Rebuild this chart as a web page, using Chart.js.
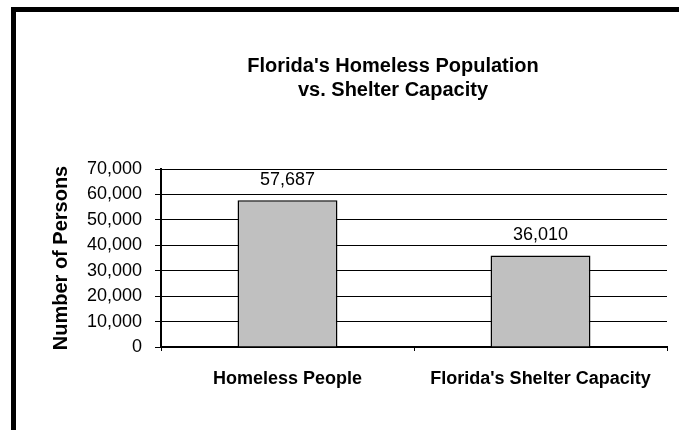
<!DOCTYPE html>
<html>
<head>
<meta charset="utf-8">
<script src="https://cdn.jsdelivr.net/npm/chart.js@4/dist/chart.umd.min.js"></script>
<style>
  html, body { margin: 0; padding: 0; background: #fff; }
  body { width: 679px; height: 430px; overflow: hidden; position: relative; }
  #frame { position: absolute; left: 11px; top: 7px; width: 900px; height: 700px; border: 5px solid #000; box-sizing: border-box; }
  #c { position: absolute; left: 0; top: 0; }
</style>
</head>
<body>
<div id="frame"></div>
<canvas id="c" width="679" height="430"></canvas>
<script>
const titleLines = ["Florida's Homeless Population", "vs. Shelter Capacity"];
const yAxisTitle = "Number of Persons";
const categories = ["Homeless People", "Florida's Shelter Capacity"];
const persons = [57687, 36010];
const yMin = 0;
const yMax = 70000;
const yStep = 10000;

const FONT = "'Liberation Sans', Arial, Helvetica, sans-serif";
Chart.defaults.color = '#000';
Chart.defaults.font.family = FONT;

const valueLabels = {
  id: 'valueLabels',
  afterDatasetsDraw(chart) {
    const ctx = chart.ctx;
    const meta = chart.getDatasetMeta(0);
    ctx.save();
    ctx.font = '18px ' + FONT;
    ctx.fillStyle = '#000';
    ctx.textAlign = 'center';
    ctx.textBaseline = 'middle';
    meta.data.forEach((el, i) => {
      ctx.fillText(persons[i].toLocaleString('en-US'), el.x, el.y - 20);
    });
    ctx.restore();
  }
};

new Chart(document.getElementById('c'), {
  type: 'bar',
  data: {
    labels: categories,
    datasets: [{
      data: persons,
      backgroundColor: '#c0c0c0',
      borderColor: '#000',
      borderWidth: 1.5,
      categoryPercentage: 1,
      barPercentage: 0.395,
      yAxisID: 'y'
    }]
  },
  options: {
    responsive: false,
    animation: false,
    layout: { padding: { left: 0, right: -107, top: 0, bottom: 0 } },
    plugins: {
      legend: { display: false },
      tooltip: { enabled: false },
      title: {
        display: true,
        text: titleLines,
        color: '#000',
        font: { size: 20, weight: 'bold', family: FONT, lineHeight: 1.2 },
        padding: { top: 54, bottom: 67 }
      }
    },
    scales: {
      x: {
        grid: { display: true, drawOnChartArea: false, drawTicks: true, tickLength: 4, color: '#000', lineWidth: 1, offset: true },
        border: { display: true, color: '#000', width: 2 },
        ticks: { color: '#000', font: { size: 18, weight: 'bold', family: FONT }, padding: 17, maxRotation: 0 },
        afterFit(scale) { scale.height = 83; }
      },
      y: {
        position: 'left',
        min: yMin,
        max: yMax,
        ticks: {
          stepSize: yStep,
          color: '#000',
          font: { size: 18, family: FONT },
          padding: 13,
          callback: v => v.toLocaleString('en-US')
        },
        grid: { color: '#000', lineWidth: 1, tickLength: 6, drawTicks: true },
        border: { display: true, color: '#000', width: 2 },
        title: {
          display: true,
          text: yAxisTitle,
          color: '#000',
          font: { size: 20, weight: 'bold', family: FONT, lineHeight: 1.2 },
          padding: { top: 49, bottom: 0 }
        },
        afterFit(scale) { scale.width = 161; }
      },
      spacer: {
        type: 'linear',
        position: 'right',
        display: true,
        min: yMin,
        max: yMax,
        grid: { display: false, drawTicks: false },
        border: { display: false },
        ticks: { display: false },
        afterFit(scale) { scale.width = 119; }
      }
    }
  },
  plugins: [valueLabels]
});
</script>
</body>
</html>
